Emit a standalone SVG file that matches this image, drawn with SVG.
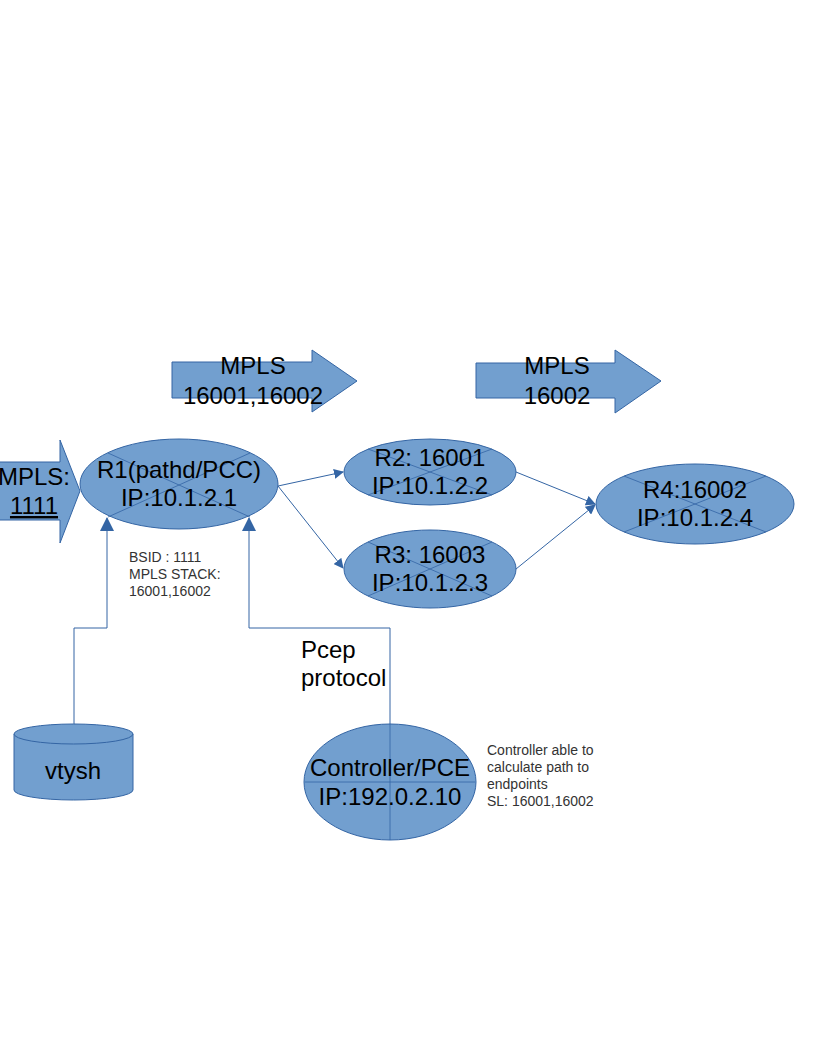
<svg xmlns="http://www.w3.org/2000/svg" width="816" height="1056" viewBox="0 0 816 1056">
<style>
.s{fill:#729fcf;stroke:#3465a4;stroke-width:1}
.x{stroke:#3465a4;stroke-width:0.8;fill:none}
.c{stroke:#3465a4;stroke-width:1;fill:none}
.t{font-family:"Liberation Sans",Arial,sans-serif;fill:#000}
.b{font-size:24px}
.m{font-size:14px;fill:#333}
</style>
<defs>
<marker id="a" markerWidth="10" markerHeight="10" refX="9" refY="5" orient="auto" markerUnits="userSpaceOnUse"><path d="M0,0 L10,5 L0,10 Z" fill="#3465a4"/></marker>
<marker id="a2" markerWidth="14" markerHeight="14" refX="13" refY="7" orient="auto" markerUnits="userSpaceOnUse"><path d="M0,0 L14,7 L0,14 Z" fill="#3465a4"/></marker>
</defs>
<g id="arrow1"><path class="s" d="M172,362 H312 V350 L357,381 L312,412 V398 H172 Z"/><text class="t b" text-anchor="middle" x="253" y="374">MPLS</text><text class="t b" text-anchor="middle" x="253" y="404">16001,16002</text></g>
<g id="arrow2"><path class="s" d="M476,363 H615 V350 L661,381 L615,413 V398 H476 Z"/><text class="t b" text-anchor="middle" x="557" y="374">MPLS</text><text class="t b" text-anchor="middle" x="557" y="404">16002</text></g>
<g id="arrow0"><path class="s" d="M-2,462 H60 V440 L80,491 L60,543 V520 H-2 Z"/><text class="t b" text-anchor="middle" x="34" y="485">MPLS:</text><text class="t b" text-anchor="middle" x="34" y="514" text-decoration="underline">1111</text></g>
<g id="connectors">
<line class="c" x1="278" y1="486" x2="343" y2="472" marker-end="url(#a)"/>
<line class="c" x1="278" y1="486" x2="343" y2="568" marker-end="url(#a)"/>
<line class="c" x1="516" y1="472" x2="595" y2="504" marker-end="url(#a)"/>
<line class="c" x1="516" y1="569" x2="595" y2="505" marker-end="url(#a)"/>
<path class="c" d="M74,724 V628 H107 V518" marker-end="url(#a2)"/>
<path class="c" d="M390,840 V628 H249 V518" marker-end="url(#a2)"/>
</g>
<g id="R1"><ellipse class="s" cx="179" cy="484" rx="99" ry="45"/><path class="x" d="M108,517 L250,453 M108,453 L250,517"/><text class="t b" text-anchor="middle" x="179" y="478">R1(pathd/PCC)</text><text class="t b" text-anchor="middle" x="179" y="506">IP:10.1.2.1</text></g>
<g id="R2"><ellipse class="s" cx="430" cy="472" rx="86" ry="33"/><path class="x" d="M368,495 L492,449 M368,449 L492,495"/><text class="t b" text-anchor="middle" x="430" y="466">R2: 16001</text><text class="t b" text-anchor="middle" x="430" y="494">IP:10.1.2.2</text></g>
<g id="R3"><ellipse class="s" cx="430" cy="569" rx="86" ry="39"/><path class="x" d="M368,596 L492,542 M368,542 L492,596"/><text class="t b" text-anchor="middle" x="430" y="563">R3: 16003</text><text class="t b" text-anchor="middle" x="430" y="591">IP:10.1.2.3</text></g>
<g id="R4"><ellipse class="s" cx="695" cy="504" rx="99" ry="40"/><path class="x" d="M624,532 L766,476 M624,476 L766,532"/><text class="t b" text-anchor="middle" x="695" y="498">R4:16002</text><text class="t b" text-anchor="middle" x="695" y="526">IP:10.1.2.4</text></g>
<g id="vtysh"><path class="s" d="M14,734 V790 A59.5,10 0 0 0 133,790 V734"/><ellipse class="s" cx="73.5" cy="734" rx="59.5" ry="10"/><text class="t b" text-anchor="middle" x="73" y="779">vtysh</text></g>
<g id="controller"><ellipse class="s" cx="390" cy="782" rx="86" ry="58"/><path class="x" d="M390,724 V840 M305,782 H475"/><text class="t b" text-anchor="middle" x="390" y="776">Controller/PCE</text><text class="t b" text-anchor="middle" x="390" y="805">IP:192.0.2.10</text></g>
<g id="labels">
<text class="t m" x="129" y="562">BSID : 1111</text><text class="t m" x="129" y="579">MPLS STACK:</text><text class="t m" x="129" y="596">16001,16002</text>
<text class="t b" x="301" y="658">Pcep</text><text class="t b" x="301" y="686">protocol</text>
<text class="t m" x="487" y="755">Controller able to</text><text class="t m" x="487" y="772">calculate path to</text><text class="t m" x="487" y="789">endpoints</text><text class="t m" x="487" y="806">SL: 16001,16002</text>
</g>
</svg>
